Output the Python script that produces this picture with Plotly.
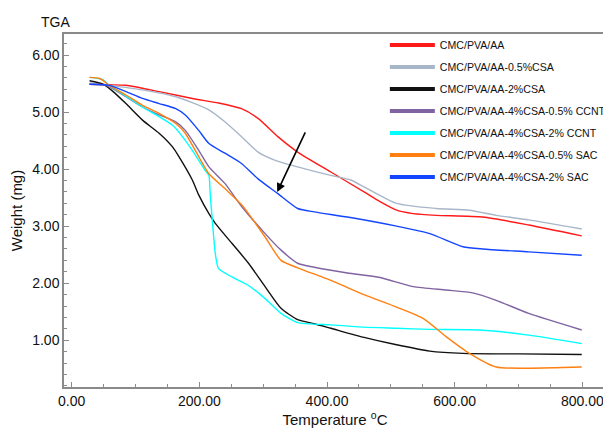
import plotly.graph_objects as go

# ---------------- data ----------------
SERIES_NAMES = [
    "CMC/PVA/AA",
    "CMC/PVA/AA-0.5%CSA",
    "CMC/PVA/AA-2%CSA",
    "CMC/PVA/AA-4%CSA-0.5% CCNT",
    "CMC/PVA/AA-4%CSA-2% CCNT",
    "CMC/PVA/AA-4%CSA-0.5% SAC",
    "CMC/PVA/AA-4%CSA-2% SAC",
]
COLORS = ["#ff1a1a", "#a8b6ca", "#111111", "#8064a2", "#00ffff", "#ff8010", "#1446ff"]

RED_X = [28, 59, 85, 137, 189, 230, 266, 292, 323, 354, 406, 458, 483, 509, 535, 571, 644, 716, 799]
RED_Y = [5.49, 5.48, 5.47, 5.36, 5.24, 5.16, 5.06, 4.89, 4.57, 4.30, 3.95, 3.60, 3.43, 3.28, 3.22, 3.19, 3.16, 3.02, 2.83]

GRAY_X = [28, 59, 111, 163, 215, 240, 266, 292, 318, 354, 406, 437, 458, 509, 571, 623, 665, 716, 799]
GRAY_Y = [5.51, 5.47, 5.39, 5.27, 5.04, 4.83, 4.57, 4.30, 4.16, 4.04, 3.89, 3.81, 3.69, 3.40, 3.31, 3.28, 3.19, 3.11, 2.95]

BLACK_X = [28, 49, 65, 85, 111, 137, 158, 168, 189, 199, 215, 225, 251, 277, 303, 328, 354, 380, 406, 458, 509, 561, 613, 700, 799]
BLACK_Y = [5.55, 5.49, 5.36, 5.15, 4.86, 4.63, 4.39, 4.22, 3.81, 3.55, 3.22, 3.05, 2.70, 2.35, 1.94, 1.56, 1.36, 1.29, 1.21, 1.05, 0.92, 0.81, 0.77, 0.76, 0.75]

PURPLE_X = [28, 54, 85, 111, 137, 163, 178, 199, 215, 240, 266, 303, 328, 354, 380, 432, 483, 535, 587, 628, 665, 716, 799]
PURPLE_Y = [5.49, 5.47, 5.27, 5.09, 4.95, 4.83, 4.68, 4.33, 4.04, 3.75, 3.35, 2.87, 2.58, 2.35, 2.28, 2.18, 2.10, 1.94, 1.88, 1.83, 1.70, 1.47, 1.18]

CYAN_X = [28, 49, 59, 85, 111, 137, 158, 168, 189, 209, 215, 217, 220, 225, 230, 251, 277, 303, 328, 354, 406, 458, 509, 561, 639, 716, 799]
CYAN_Y = [5.61, 5.57, 5.47, 5.28, 5.09, 4.92, 4.77, 4.65, 4.33, 3.98, 3.89, 3.57, 3.15, 2.52, 2.26, 2.11, 1.96, 1.73, 1.47, 1.31, 1.27, 1.23, 1.21, 1.19, 1.18, 1.09, 0.94]

ORANGE_X = [28, 44, 59, 85, 111, 137, 163, 178, 199, 215, 240, 266, 277, 303, 328, 354, 406, 458, 509, 551, 587, 623, 665, 716, 799]
ORANGE_Y = [5.61, 5.59, 5.47, 5.30, 5.12, 4.98, 4.80, 4.63, 4.22, 3.92, 3.66, 3.38, 3.22, 2.81, 2.40, 2.27, 2.05, 1.80, 1.58, 1.38, 1.06, 0.77, 0.53, 0.51, 0.53]

BLUE_X = [28, 59, 85, 111, 137, 163, 178, 199, 215, 240, 266, 292, 323, 354, 380, 432, 509, 561, 613, 644, 716, 799]
BLUE_Y = [5.49, 5.47, 5.36, 5.24, 5.15, 5.06, 4.95, 4.68, 4.45, 4.28, 4.10, 3.83, 3.57, 3.31, 3.25, 3.16, 3.00, 2.87, 2.64, 2.60, 2.55, 2.49]

SERIES_X = [RED_X, GRAY_X, BLACK_X, PURPLE_X, CYAN_X, ORANGE_X, BLUE_X]
SERIES_Y = [RED_Y, GRAY_Y, BLACK_Y, PURPLE_Y, CYAN_Y, ORANGE_Y, BLUE_Y]

X_RANGE = [-12, 837]
Y_RANGE = [0.18, 6.37]
ARROW_TAIL = [367, 4.67]
ARROW_TIP = [322, 3.60]

# ---------------- figure ----------------
FONT = "Liberation Sans, Arial, sans-serif"
AXIS_GRAY = "#8a8a8a"

fig = go.Figure()
for xs, ys, c, n in zip(SERIES_X, SERIES_Y, COLORS, SERIES_NAMES):
    fig.add_trace(go.Scatter(x=xs, y=ys, mode="lines", name=n, showlegend=False,
                             line=dict(color=c, width=1.4, shape="spline", smoothing=0.6),
                             hoverinfo="skip"))
for c, n in zip(COLORS, SERIES_NAMES):
    fig.add_trace(go.Scatter(x=[None], y=[None], mode="lines", name=n, legendgroup=n,
                             line=dict(color=c, width=4), showlegend=True))

# the page body has an 8px default margin, so the figure is sized to fit the window
fig.update_layout(
    width=603, height=423,
    margin=dict(l=56, r=0, t=26, b=44),
    paper_bgcolor="white", plot_bgcolor="white",
    font=dict(family=FONT, color="#111111", size=14),
    showlegend=True,
    legend=dict(x=0.592, y=1.01, xanchor="left", yanchor="top",
                bgcolor="rgba(0,0,0,0)", borderwidth=0,
                font=dict(family=FONT, size=10.6, color="#111111"),
                itemwidth=45, tracegroupgap=3),
    xaxis=dict(range=X_RANGE, tick0=0, dtick=200, tickformat=".2f",
               ticks="inside", ticklen=5, tickwidth=1, tickcolor=AXIS_GRAY,
               showline=True, linecolor=AXIS_GRAY, linewidth=1.5, mirror=True,
               showgrid=False, zeroline=False,
               minor=dict(dtick=50, ticks="inside", ticklen=3, tickcolor=AXIS_GRAY, showgrid=False),
               tickfont=dict(size=14, family=FONT),
               title=dict(text="Temperature <sup>o</sup>C", font=dict(size=15, family=FONT), standoff=4),
               automargin=False),
    yaxis=dict(range=Y_RANGE, tick0=0, dtick=1, tickformat=".2f",
               ticks="inside", ticklen=5, tickwidth=1, tickcolor=AXIS_GRAY,
               showline=True, linecolor=AXIS_GRAY, linewidth=1.5, mirror=False,
               showgrid=False, zeroline=False,
               minor=dict(dtick=0.2, ticks="inside", ticklen=3, tickcolor=AXIS_GRAY, showgrid=False),
               tickfont=dict(size=14, family=FONT),
               title=dict(text="Weight (mg)", font=dict(size=15, family=FONT), standoff=8),
               automargin=False),
    annotations=[
        dict(text="TGA", xref="paper", yref="paper", x=-0.0165, y=1.034,
             xanchor="center", yanchor="middle", showarrow=False,
             font=dict(size=14, family=FONT)),
        dict(x=ARROW_TIP[0], y=ARROW_TIP[1], ax=ARROW_TAIL[0], ay=ARROW_TAIL[1],
             xref="x", yref="y", axref="x", ayref="y", text="",
             showarrow=True, arrowhead=2, arrowsize=1.1, arrowwidth=1.6, arrowcolor="#000000"),
    ],
)

fig.write_html("out.html")
